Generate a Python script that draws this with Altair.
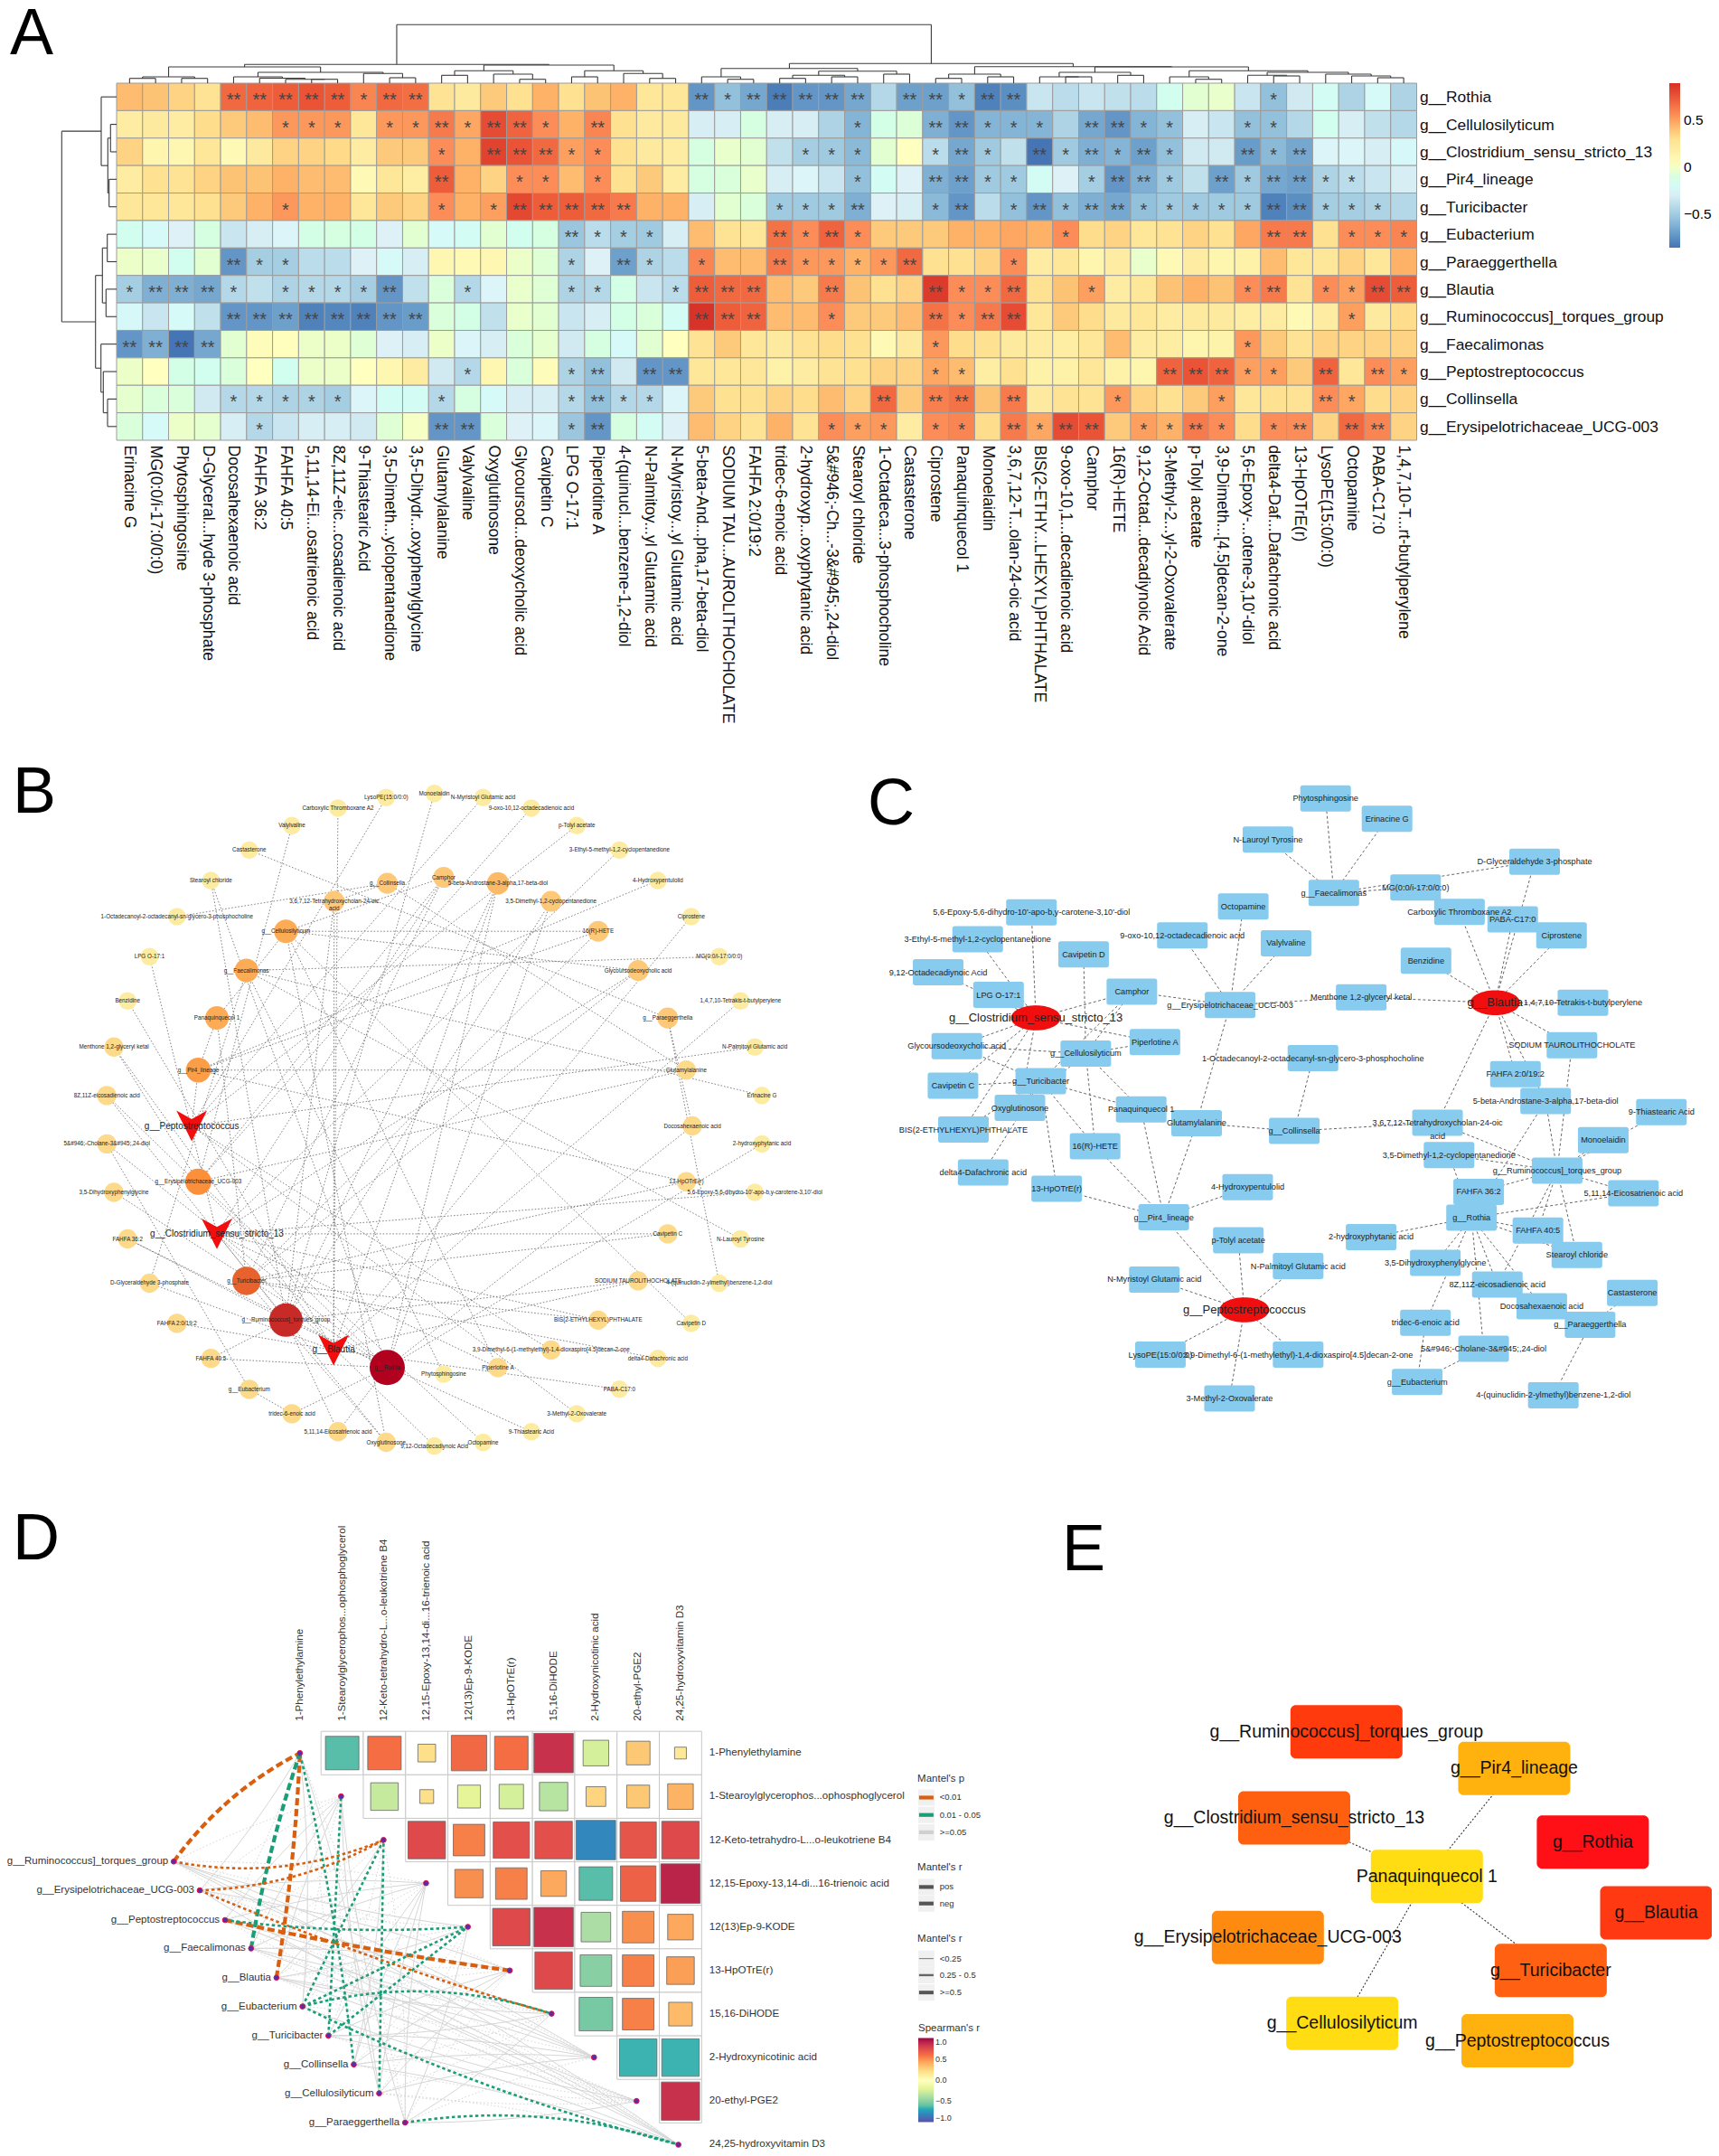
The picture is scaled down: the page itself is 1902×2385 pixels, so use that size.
import altair as alt
import pandas as pd

# ---------- page geometry ----------
PAGE_W, PAGE_H, M = 1902, 2385, 8
W, H = PAGE_W - 2 * M, PAGE_H - 2 * M
X_SCALE = alt.Scale(domain=[M, PAGE_W - M], range=[0, W], nice=False, zero=False)
Y_SCALE = alt.Scale(domain=[M, PAGE_H - M], range=[0, H], nice=False, zero=False)
X = alt.X("x:Q", scale=X_SCALE, axis=None)
Y = alt.Y("y:Q", scale=Y_SCALE, axis=None)

# ---------- panel A data ----------
hm_cols = ["Erinacine G", "MG(0:0/i-17:0/0:0)", "Phytosphingosine", "D-Glyceral...hyde 3-phosphate",
           "Docosahexaenoic acid", "FAHFA 36:2", "FAHFA 40:5", "5,11,14-Ei...osatrienoic acid",
           "8Z,11Z-eic...cosadienoic acid", "9-Thiastearic Acid", "3,5-Dimeth...yclopentanedione",
           "3,5-Dihydr...oxyphenylglycine", "Glutamylalanine", "Valylvaline", "Oxyglutinosone",
           "Glycoursod...deoxycholic acid", "Cavipetin C", "LPG O-17:1", "Piperlotine A",
           "4-(quinucl...benzene-1,2-diol", "N-Palmitoy...yl Glutamic acid", "N-Myristoy...yl Glutamic acid",
           "5-beta-And...pha,17-beta-diol", "SODIUM TAU...AUROLITHOCHOLATE", "FAHFA 2:0/19:2",
           "tridec-6-enoic acid", "2-hydroxyp...oxyphytanic acid", "5&#946;-Ch...-3&#945;,24-diol",
           "Stearoyl chloride", "1-Octadeca...3-phosphocholine", "Castasterone", "Ciprostene",
           "Panaquinquecol 1", "Monoelaidin", "3,6,7,12-T...olan-24-oic acid", "BIS(2-ETHY...LHEXYL)PHTHALATE",
           "9-oxo-10,1...decadienoic acid", "Camphor", "16(R)-HETE", "9,12-Octad...decadiynoic Acid",
           "3-Methyl-2...yl-2-Oxovalerate", "p-Tolyl acetate", "3,9-Dimeth...[4.5]decan-2-one",
           "5,6-Epoxy-...otene-3,10'-diol", "delta4-Daf...Dafachronic acid", "13-HpOTrE(r)",
           "LysoPE(15:0/0:0)", "Octopamine", "PABA-C17:0", "1,4,7,10-T...rt-butylperylene"]
hm_rows = ["g__Rothia", "g__Cellulosilyticum", "g__Clostridium_sensu_stricto_13", "g__Pir4_lineage",
           "g__Turicibacter", "g__Eubacterium", "g__Paraeggerthella", "g__Blautia",
           "g__Ruminococcus]_torques_group", "g__Faecalimonas", "g__Peptostreptococcus", "g__Collinsella",
           "g__Erysipelotrichaceae_UCG-003"]
hm_rothia = ".42 .4 .35 .28 .68** .7** .72** .75** .72** .58* .68** .66** .28 .22 .38 .3 .45 .3 .4 .45 .25 .25 -.72** -.55* -.65** -.82** -.72** -.72** -.65** -.42 -.68** -.68** -.55* -.8** -.75** -.35 -.4 -.35 -.38 -.4 -.15 -.05 -.03 -.35 -.55* -.32 -.18 -.45 -.2 -.45"
hm_cellulo = ".2 .22 .2 .32 .38 .42 .52* .52* .52* .25 .52* .52* .62** .48* .78** .7** .55* .45 .58** .3 .22 .22 -.3 -.3 -.1 -.3 -.3 -.45 -.6* -.12 -.07 -.62** -.72** -.6* -.6* -.6* -.45 -.65** -.72** -.6* -.55* -.3 -.35 -.55* -.55* -.42 -.15 -.3 -.38 -.42"
hm_clostr = ".35 .12 .1 .25 .08 .22 .35 .35 .33 .2 .38 .38 .55* .45 .82** .75** .68** .5* .55* .3 .22 .2 -.1 -.03 -.05 -.38 -.48* -.5* -.58* -.05 .02 -.4* -.65** -.5* -.38 -.85** -.5* -.62** -.6* -.68** -.55* -.32 -.32 -.7** -.58* -.65** -.25 -.25 -.3 -.22"
hm_pir4 = ".2 .3 .28 .35 .4 .4 .45 .42 .42 .08 .25 .18 .72** .45 .35 .55* .55* .42 .55* .3 .38 .2 -.1 -.08 -.03 -.3 -.25 -.35 -.55* -.18 -.28 -.62** -.68** -.5* -.5* -.18 -.28 -.48* -.72** -.62** -.5* -.38 -.68** -.5* -.65** -.68** -.45* -.4* -.35 -.3"
hm_turici = ".25 .25 .25 .3 .38 .45 .52* .45 .45 .25 .38 .35 .55* .45 .5* .8** .72** .72** .68** .62** .45 .45 -.3 -.05 -.08 -.5* -.5* -.5* -.62** -.28 -.3 -.58* -.72** -.4 -.55* -.72** -.55* -.62** -.65** -.55* -.5* -.5* -.5* -.5* -.8** -.75** -.48* -.48* -.45* -.42"
hm_eubac = "-.15 -.2 -.28 -.1 -.35 -.3 -.25 -.12 -.1 -.12 -.28 -.05 -.2 -.18 -.05 -.15 -.1 -.52** -.4* -.48* -.5* -.3 .42 .28 .25 .65** .55* .7** .55* .38 .38 .38 .45 .45 .48 .45 .55* .32 .35 .25 .28 .35 .3 .48 .62** .62** .3 .55* .55* .58*"
hm_parae = "-.02 -.03 -.15 -.05 -.72** -.48* -.48* -.4 -.4 -.28 -.2 -.3 .1 .07 .1 -.02 -.06 -.45* -.28 -.68** -.45* -.4 .58* .42 .42 .62** .52* .52* .45* .52* .68** .3 .3 .35 .55* .2 .25 .12 .2 -.03 .08 .2 .12 .15 .42 .25 .25 .35 .25 .45"
hm_blautia = "-.48* -.62** -.62** -.65** -.42* -.38 -.45* -.42* -.42* -.48* -.72** -.38 -.08 -.42* -.25 -.03 -.06 -.45* -.42* -.12 -.35 -.4* .72** .68** .68** .42 .38 .62** .4 .3 .35 .85** .55* .55* .68** .3 .4 .5* .2 .25 .4 .45 .4 .55* .62** .28 .55* .5* .78** .72**"
hm_rumino = "-.22 -.35 -.2 -.38 -.72** -.72** -.68** -.8** -.78** -.8** -.72** -.7** -.08 -.12 -.38 -.03 -.05 -.35 -.3 -.12 -.08 -.18 .88** .72** .7** .42 .42 .55* .38 .38 .42 .65** .55* .62** .78** .25 .38 .32 .22 .25 .2 .22 .22 .18 .2 .08 .2 .5* .22 .32"
hm_faecal = "-.72** -.62** -.85** -.65** -.05 .05 .03 -.02 -.02 -.06 -.28 -.3 -.02 -.25 -.3 -.08 -.04 -.32 -.1 -.2 -.05 .02 .28 .38 .25 .22 .28 .32 .3 .08 .22 .52* .32 .3 .22 .2 .18 .25 .42 .2 .18 .12 .14 .52* .38 .28 .35 .35 .35 .35"
hm_pepto = "-.02 .02 -.12 -.15 -.08 .02 -.15 -.02 -.02 .02 .1 .2 -.32 -.42* .1 -.08 .05 -.45* -.55** -.32 -.72** -.72** .25 .25 .25 .15 .2 .28 .3 .35 .35 .48* .42* .18 .3 .15 .15 .25 .15 .12 .7** .75** .7** .5* .5* .38 .7** .25 .55** .5*"
hm_collin = "-.04 -.08 -.08 -.32 -.42* -.42* -.45* -.45* -.48* -.25 -.18 -.18 -.42* -.1 -.2 -.3 -.3 -.42* -.55** -.42* -.42* -.25 .38 .3 .3 .35 .32 .42 .35 .68** .38 .6** .65** .4 .62** .22 .28 .28 .52* .35 .3 .38 .5* .25 .3 .28 .55** .48* .32 .35"
hm_erysip = "-.08 -.2 -.02 -.04 -.3 -.42* -.35 -.3 -.3 -.32 -.06 0 -.72** -.72** -.08 -.28 -.25 -.52* -.72** -.1 -.18 -.28 .42 .35 .28 .45 .28 .55* .5* .52* .2 .55* .58* .32 .62** .48* .78** .75** .38 .5* .45* .62** .55* .32 .55* .55** .35 .68** .58** .35"
hm_values = [hm_rothia, hm_cellulo, hm_clostr, hm_pir4, hm_turici, hm_eubac, hm_parae, hm_blautia,
             hm_rumino, hm_faecal, hm_pepto, hm_collin, hm_erysip]

# merge heights of the clustering trees: (height, left, right); leaves are 1-based
top_left = (20.7,
            (18, (7, (5.3, 1, 2), (5.3, 3, 4)),
             (12, (7, 5, (5.5, 6, (4.3, 7, (4.3, 8, 9)))), (10.7, 10, (6, 11, 12)))),
            (20, (13.7, (8.7, 13, 14), (10, 15, (4.3, 16, 17))),
             (13.7, (7, 18, 19), (10.7, 20, (5.3, 21, 22)))))
top_right = (21.7,
             (16.3, (7, 23, (4.3, 24, 25)),
              (13.3, (8.7, (5.3, 26, 27), (7, 28, 29)), (10, 30, 31))),
             (18.3, (10, (5.3, 32, 33), (7, 34, 35)),
              (18, (12, (7, 36, (7, 37, 38)), (8.7, 39, 40)),
               (13.7, (7, 41, (4.3, 42, 43)),
                (12, (8.7, 44, (8, 45, 46)), (10, 47, (8, 48, (6, 49, 50))))))))
top_tree = (64.7, top_left, top_right)
left_tree = (60.7, (17, 1, (9.7, (6.7, 2, 3), (8.3, 4, 5))),
             (23.3, (15.7, (10.3, 6, 7), (11.7, 8, 9)), (17.3, 10, (14.7, 11, (10, 12, 13)))))

# ---------- panels B and C share one network ----------
net_edges = {
    "g__Faecalimonas": ["Phytosphingosine", "Erinacine G", "N-Lauroyl Tyrosine", "MG(0:0/i-17:0/0:0)", "D-Glyceraldehyde 3-phosphate"],
    "g__Blautia": ["PABA-C17:0", "Carboxylic Thromboxane A2", "Ciprostene", "Benzidine", "Menthone 1,2-glyceryl ketal",
                   "1,4,7,10-Tetrakis-t-butylperylene", "SODIUM TAUROLITHOCHOLATE", "FAHFA 2:0/19:2",
                   "3,6,7,12-Tetrahydroxycholan-24-oic\nacid", "5-beta-Androstane-3-alpha,17-beta-diol", "D-Glyceraldehyde 3-phosphate"],
    "g__Erysipelotrichaceae_UCG-003": ["Octopamine", "9-oxo-10,12-octadecadienoic acid", "Valylvaline", "Camphor",
                                       "Menthone 1,2-glyceryl ketal", "Glutamylalanine"],
    "g__Clostridium_sensu_stricto_13": ["5,6-Epoxy-5,6-dihydro-10'-apo-b,y-carotene-3,10'-diol", "3-Ethyl-5-methyl-1,2-cyclopentanedione",
                                        "9,12-Octadecadiynoic Acid", "LPG O-17:1", "Camphor", "Glycoursodeoxycholic acid",
                                        "Cavipetin C", "BIS(2-ETHYLHEXYL)PHTHALATE", "Piperlotine A", "Oxyglutinosone"],
    "g__Turicibacter": ["Glycoursodeoxycholic acid", "Cavipetin C", "Oxyglutinosone", "Panaquinquecol 1", "16(R)-HETE",
                        "13-HpOTrE(r)", "BIS(2-ETHYLHEXYL)PHTHALATE", "delta4-Dafachronic acid", "Camphor"],
    "g__Cellulosilyticum": ["Camphor", "Piperlotine A", "Panaquinquecol 1", "16(R)-HETE", "Cavipetin D", "Oxyglutinosone", "Glycoursodeoxycholic acid"],
    "g__Pir4_lineage": ["Panaquinquecol 1", "Glutamylalanine", "16(R)-HETE", "13-HpOTrE(r)", "4-Hydroxypentulolid", "g__Peptostreptococcus"],
    "g__Collinsella": ["1-Octadecanoyl-2-octadecanyl-sn-glycero-3-phosphocholine", "Glutamylalanine", "3,6,7,12-Tetrahydroxycholan-24-oic\nacid"],
    "g__Peptostreptococcus": ["p-Tolyl acetate", "N-Palmitoyl Glutamic acid", "N-Myristoyl Glutamic acid", "LysoPE(15:0/0:0)",
                              "3,9-Dimethyl-6-(1-methylethyl)-1,4-dioxaspiro[4.5]decan-2-one", "3-Methyl-2-Oxovalerate"],
    "g__Ruminococcus]_torques_group": ["3,6,7,12-Tetrahydroxycholan-24-oic\nacid", "5-beta-Androstane-3-alpha,17-beta-diol",
                                       "3,5-Dimethyl-1,2-cyclopentanedione", "Monoelaidin", "9-Thiastearic Acid", "FAHFA 36:2",
                                       "5,11,14-Eicosatrienoic acid", "FAHFA 40:5", "8Z,11Z-eicosadienoic acid", "Stearoyl chloride",
                                       "SODIUM TAUROLITHOCHOLATE"],
    "g__Rothia": ["3,5-Dimethyl-1,2-cyclopentanedione", "FAHFA 36:2", "5,11,14-Eicosatrienoic acid", "FAHFA 40:5",
                  "2-hydroxyphytanic acid", "Stearoyl chloride", "3,5-Dihydroxyphenylglycine", "8Z,11Z-eicosadienoic acid",
                  "Docosahexaenoic acid", "tridec-6-enoic acid", "5-beta-Androstane-3-alpha,17-beta-diol", "5&#946;-Cholane-3&#945;,24-diol"],
    "g__Eubacterium": ["5&#946;-Cholane-3&#945;,24-diol", "tridec-6-enoic acid"],
    "g__Paraeggerthella": ["Castasterone", "Docosahexaenoic acid", "4-(quinuclidin-2-ylmethyl)benzene-1,2-diol"],
}
# panel C layout: name, layout x, layout y
c_nodes = [
    ("Phytosphingosine", 851, 124), ("Erinacine G", 963, 168), ("N-Lauroyl Tyrosine", 746, 213), ("g__Faecalimonas", 866, 329),
    ("D-Glyceraldehyde 3-phosphate", 1232, 261), ("MG(0:0/i-17:0/0:0)", 1015, 317), ("Carboxylic Thromboxane A2", 1095, 370),
    ("PABA-C17:0", 1192, 386), ("Ciprostene", 1281, 421), ("Octopamine", 701, 358), ("9-oxo-10,12-octadecadienoic acid", 590, 421),
    ("Valylvaline", 779, 438), ("Benzidine", 1034, 476), ("5,6-Epoxy-5,6-dihydro-10'-apo-b,y-carotene-3,10'-diol", 315, 371),
    ("3-Ethyl-5-methyl-1,2-cyclopentanedione", 217, 429), ("Cavipetin D", 410, 462), ("9,12-Octadecadiynoic Acid", 145, 501),
    ("LPG O-17:1", 255, 550), ("Camphor", 498, 543), ("g__Erysipelotrichaceae_UCG-003", 677, 572), ("Menthone 1,2-glyceryl ketal", 916, 555),
    ("1,4,7,10-Tetrakis-t-butylperylene", 1320, 567), ("Glycoursodeoxycholic acid", 179, 661), ("g__Cellulosilyticum", 414, 677),
    ("Piperlotine A", 540, 652), ("1-Octadecanoyl-2-octadecanyl-sn-glycero-3-phosphocholine", 828, 687), ("SODIUM TAUROLITHOCHOLATE", 1300, 659),
    ("FAHFA 2:0/19:2", 1197, 722), ("g__Turicibacter", 332, 737), ("Cavipetin C", 172, 747), ("5-beta-Androstane-3-alpha,17-beta-diol", 1252, 780),
    ("9-Thiastearic Acid", 1463, 804), ("Oxyglutinosone", 294, 795), ("Panaquinquecol 1", 515, 798), ("Glutamylalanine", 616, 828),
    ("g__Collinsella", 794, 845), ("3,6,7,12-Tetrahydroxycholan-24-oic\nacid", 1055, 827), ("Monoelaidin", 1357, 865),
    ("BIS(2-ETHYLHEXYL)PHTHALATE", 191, 842), ("16(R)-HETE", 431, 878), ("3,5-Dimethyl-1,2-cyclopentanedione", 1076, 897),
    ("g__Ruminococcus]_torques_group", 1273, 931), ("delta4-Dafachronic acid", 227, 935), ("13-HpOTrE(r)", 361, 970), ("FAHFA 36:2", 1130, 977),
    ("4-Hydroxypentulolid", 709, 967), ("5,11,14-Eicosatrienoic acid", 1412, 980), ("g__Pir4_lineage", 556, 1032), ("g__Rothia", 1117, 1033),
    ("FAHFA 40:5", 1238, 1061), ("2-hydroxyphytanic acid", 934, 1075), ("p-Tolyl acetate", 692, 1082), ("Stearoyl chloride", 1309, 1114),
    ("3,5-Dihydroxyphenylglycine", 1051, 1131), ("N-Palmitoyl Glutamic acid", 801, 1138), ("N-Myristoyl Glutamic acid", 539, 1167),
    ("8Z,11Z-eicosadienoic acid", 1164, 1178), ("Docosahexaenoic acid", 1245, 1225), ("Castasterone", 1410, 1196),
    ("g__Paraeggerthella", 1333, 1265), ("tridec-6-enoic acid", 1033, 1261), ("5&#946;-Cholane-3&#945;,24-diol", 1139, 1317),
    ("LysoPE(15:0/0:0)", 550, 1330), ("3,9-Dimethyl-6-(1-methylethyl)-1,4-dioxaspiro[4.5]decan-2-one", 801, 1330), ("g__Eubacterium", 1018, 1389),
    ("3-Methyl-2-Oxovalerate", 676, 1425), ("4-(quinuclidin-2-ylmethyl)benzene-1,2-diol", 1266, 1418),
]
c_hubs = [("g__Blautia", 1160, 567), ("g__Clostridium_sensu_stricto_13", 323, 600), ("g__Peptostreptococcus", 703, 1233)]

# panel B layout: name, layout x, layout y, node degree
b_nodes = [
    ("Monoelaidin", 793, 113, 1), ("N-Myristoyl Glutamic acid", 882, 122, 1), ("9-oxo-10,12-octadecadienoic acid", 970, 145, 1),
    ("p-Tolyl acetate", 1053, 183, 1), ("3-Ethyl-5-methyl-1,2-cyclopentanedione", 1131, 236, 1), ("4-Hydroxypentulolid", 1201, 302, 1),
    ("Ciprostene", 1262, 380, 1), ("MG(0:0/i-17:0/0:0)", 1313, 467, 1), ("1,4,7,10-Tetrakis-t-butylperylene", 1352, 563, 1),
    ("N-Palmitoyl Glutamic acid", 1378, 663, 1), ("Erinacine G", 1391, 768, 1), ("2-hydroxyphytanic acid", 1391, 873, 1),
    ("5,6-Epoxy-5,6-dihydro-10'-apo-b,y-carotene-3,10'-diol", 1378, 978, 1), ("N-Lauroyl Tyrosine", 1352, 1079, 1),
    ("4-(quinuclidin-2-ylmethyl)benzene-1,2-diol", 1313, 1175, 1), ("Cavipetin D", 1262, 1262, 1), ("delta4-Dafachronic acid", 1201, 1338, 1),
    ("PABA-C17:0", 1131, 1405, 1), ("3-Methyl-2-Oxovalerate", 1053, 1458, 1), ("9-Thiastearic Acid", 970, 1497, 1), ("Octopamine", 882, 1520, 1),
    ("9,12-Octadecadiynoic Acid", 793, 1528, 1), ("Oxyglutinosone", 705, 1520, 2), ("5,11,14-Eicosatrienoic acid", 617, 1497, 2),
    ("tridec-6-enoic acid", 533, 1458, 2), ("g__Eubacterium", 455, 1405, 2), ("FAHFA 40:5", 385, 1338, 2), ("FAHFA 2:0/19:2", 323, 1262, 2),
    ("D-Glyceraldehyde 3-phosphate", 273, 1175, 2), ("FAHFA 36:2", 233, 1079, 2), ("3,5-Dihydroxyphenylglycine", 208, 978, 2),
    ("5&#946;-Cholane-3&#945;,24-diol", 195, 873, 2), ("8Z,11Z-eicosadienoic acid", 195, 768, 2), ("Menthone 1,2-glyceryl ketal", 208, 663, 2),
    ("Benzidine", 233, 563, 1), ("LPG O-17:1", 273, 467, 1), ("1-Octadecanoyl-2-octadecanyl-sn-glycero-3-phosphocholine", 323, 380, 1),
    ("Stearoyl chloride", 385, 302, 1), ("Castasterone", 455, 236, 1), ("Valylvaline", 533, 183, 1), ("Carboxylic Thromboxane A2", 617, 145, 1),
    ("LysoPE(15:0/0:0)", 705, 122, 1),
    ("Camphor", 810, 295, 3), ("g__Collinsella", 707, 308, 3), ("5-beta-Androstane-3-alpha,17-beta-diol", 909, 308, 4),
    ("3,5-Dimethyl-1,2-cyclopentanedione", 1006, 347, 3), ("3,6,7,12-Tetrahydroxycholan-24-oic\nacid", 610, 347, 3), ("16(R)-HETE", 1092, 412, 3),
    ("g__Cellulosilyticum", 522, 412, 5), ("Glycoursodeoxycholic acid", 1165, 497, 3), ("g__Faecalimonas", 450, 497, 5),
    ("g__Paraeggerthella", 1219, 600, 3), ("Panaquinquecol 1", 396, 600, 5), ("Glutamylalanine", 1253, 713, 2), ("g__Pir4_lineage", 362, 713, 6),
    ("Docosahexaenoic acid", 1264, 834, 2), ("13-HpOTrE(r)", 1253, 955, 2), ("g__Erysipelotrichaceae_UCG-003", 362, 955, 7),
    ("Cavipetin C", 1219, 1068, 2), ("SODIUM TAUROLITHOCHOLATE", 1165, 1170, 2), ("g__Turicibacter", 450, 1170, 9),
    ("BIS(2-ETHYLHEXYL)PHTHALATE", 1092, 1255, 2), ("g__Ruminococcus]_torques_group", 522, 1255, 14),
    ("3,9-Dimethyl-6-(1-methylethyl)-1,4-dioxaspiro[4.5]decan-2-one", 1006, 1320, 2), ("Piperlotine A", 909, 1358, 2),
    ("g__Rothia", 707, 1358, 16), ("Phytosphingosine", 810, 1372, 1),
]
b_hubs = [("g__Peptostreptococcus", 350, 834), ("g__Clostridium_sensu_stricto_13", 396, 1068), ("g__Blautia", 609, 1320)]

# ---------- panel D data ----------
d_col_labels = ["1-Phenylethylamine", "1-Stearoylglycerophos...ophosphoglycerol", "12-Keto-tetrahydro-L...o-leukotriene B4",
                "12,15-Epoxy-13,14-di...16-trienoic acid", "12(13)Ep-9-KODE", "13-HpOTrE(r)", "15,16-DiHODE",
                "2-Hydroxynicotinic acid", "20-ethyl-PGE2", "24,25-hydroxyvitamin D3"]
d_row_labels = list(d_col_labels)
# upper triangle, one list per row: (Spearman r, tile edge share)
d_r0 = [(-.62, .85), (.6, .85), (.2, .45), (.62, .9), (.6, .85), (.85, 1.0), (-.25, .65), (.3, .6), (.15, .3)]
d_r1 = [(-.3, .7), (.2, .35), (-.2, .58), (-.25, .62), (-.35, .72), (.25, .5), (.3, .58), (.38, .65)]
d_r2 = [(.75, .95), (.55, .8), (.72, .92), (.72, .95), (-.8, 1.0), (.7, .92), (.75, .95)]
d_r3 = [(.5, .72), (.55, .8), (.42, .65), (-.62, .85), (.65, .9), (.9, 1.0)]
d_r4 = [(.75, .95), (.85, 1.0), (-.4, .75), (.5, .8), (.42, .65)]
d_r5 = [(.75, .95), (-.5, .8), (.55, .8), (.45, .7)]
d_r6 = [(-.55, .85), (.55, .8), (.35, .6)]
d_r7 = [(-.66, .95), (-.66, .95)]
d_r8 = [(.85, .97)]
d_tiles = [d_r0, d_r1, d_r2, d_r3, d_r4, d_r5, d_r6, d_r7, d_r8]

d_taxa = [("g__Ruminococcus]_torques_group", 274, 873), ("g__Erysipelotrichaceae_UCG-003", 315, 941), ("g__Peptostreptococcus", 355, 1011),
          ("g__Faecalimonas", 396, 1078), ("g__Blautia", 436, 1147), ("g__Eubacterium", 477, 1215), ("g__Turicibacter", 518, 1284),
          ("g__Collinsella", 558, 1352), ("g__Cellulosilyticum", 598, 1420), ("g__Paraeggerthella", 639, 1489)]
d_mpos = [(473, 617), (538, 719), (605, 822), (672, 924), (738, 1027), (804, 1130), (870, 1232), (937, 1335), (1004, 1438), (1070, 1541)]
# significant Mantel links: taxon index, metabolite index, class, bend
d_links = [(0, 0, "o2", .12), (4, 0, "o2", -.03), (3, 0, "g2", .04), (7, 0, "g1", -.03), (6, 1, "g1", 0), (0, 2, "o1", -.15), (1, 2, "o1", -.12),
           (1, 6, "o1", -.03), (2, 5, "o2", -.02), (2, 4, "g1", -.05), (5, 2, "g1", 0), (8, 2, "g1", 0), (5, 4, "g1", 0), (6, 4, "g1", 0),
           (5, 6, "g1", .15), (5, 9, "g1", -.05), (9, 9, "g1", .12)]
# remaining links per taxon, per metabolite: s solid, d dotted
d_rest = ["sdsdsdssds", "sdssdssdsd", "dsdsssdsds", "ssdsdsdsds", "dssdsdssds", "sdsdsdsdss", "dsdsdsssds", "sdssdsdsds", "ssdsdsdsdd", "dsdssdsdss"]

# ---------- panel E data ----------
e_nodes = [("g__Ruminococcus]_torques_group", 762, 567, "#FF3A0D"), ("g__Pir4_lineage", 1125, 653, "#FFB20E"),
           ("g__Clostridium_sensu_stricto_13", 649, 770, "#FF600F"), ("g__Rothia", 1295, 827, "#FF0F16"),
           ("Panaquinquecol 1", 936, 908, "#FFDD12"), ("g__Blautia", 1432, 994, "#FF3A12"),
           ("g__Erysipelotrichaceae_UCG-003", 592, 1052, "#FF8A10"), ("g__Turicibacter", 1204, 1130, "#FF6012"),
           ("g__Cellulosilyticum", 753, 1255, "#FFDD12"), ("g__Peptostreptococcus", 1132, 1296, "#FFB20E")]
e_edges = [("Panaquinquecol 1", "g__Pir4_lineage"), ("Panaquinquecol 1", "g__Clostridium_sensu_stricto_13"),
           ("Panaquinquecol 1", "g__Turicibacter"), ("Panaquinquecol 1", "g__Cellulosilyticum")]

panel_letters = [("A", 35, 60), ("B", 38, 899), ("C", 986, 912), ("D", 40, 1725), ("E", 1199, 1737)]

# ---------- panel transforms (layout units to figure units) ----------
bx = lambda z: z / 1.65
by = lambda z: 820 + z / 1.96
cx = lambda z: 950 + z / 1.647
cy = lambda z: 820 + z / 1.96
dx = lambda z: z / 1.4255
dy = lambda z: 1650 + z / 2.133
ex = lambda z: 1100 + z / 1.955
ey = lambda z: 1650 + z / 2.133

# ---------- A: heat map through its own band scales ----------
HM_L, HM_R, HM_T, HM_B = 129.0, 1567.5, 92.0, 487.0
recs = []
for rn, line in zip(hm_rows, hm_values):
    toks = line.split()
    assert len(toks) == 50, (rn, len(toks))
    for cn, t in zip(hm_cols, toks):
        v = t.rstrip("*")
        recs.append({"col": cn, "row": rn, "v": float(v), "s": t[len(v):]})
hm_df = pd.DataFrame(recs)
hx = alt.X("col:N", sort=hm_cols, scale=alt.Scale(type="band", domain=hm_cols, range=[HM_L - M, HM_R - M], paddingInner=0, paddingOuter=0),
           axis=alt.Axis(orient="bottom", offset=-(H - (HM_B - M)), labelAngle=90, labelAlign="left", labelBaseline="middle", labelFontSize=17.6,
                         labelPadding=5, labelLimit=0, ticks=False, domain=False, grid=False, title=None, labelOverlap=False, labelColor="#111"))
hy = alt.Y("row:N", sort=hm_rows, scale=alt.Scale(type="band", domain=hm_rows, range=[HM_T - M, HM_B - M], paddingInner=0, paddingOuter=0),
           axis=alt.Axis(orient="right", offset=-(W - (HM_R - M)), labelFontSize=17.4, labelPadding=3, labelLimit=0, ticks=False, domain=False,
                         grid=False, title=None, labelOverlap=False, labelColor="#111", labelOffset=1))
hm_color = alt.Color("v:Q", scale=alt.Scale(domain=[-.85, -.56, -.27, .02, .31, .55, .75, .89],
                                            range=["#4575B4", "#91BFDB", "#E0F3F8", "#FFFFBF", "#FEE090", "#FC8D59", "#EA5336", "#D73027"]),
                     legend=alt.Legend(orient="none", legendX=1847 - M, legendY=92 - M, direction="vertical", gradientLength=182, gradientThickness=12,
                                       title=None, values=[-.5, 0, .5], format=".1~f", labelFontSize=15.5, labelOffset=4, gradientStrokeWidth=0))
hm_layer = alt.layer(
    alt.Chart(hm_df).mark_rect(stroke="#9c9c9c", strokeWidth=1).encode(x=hx, y=hy, color=hm_color),
    alt.Chart(hm_df[hm_df.s != ""]).mark_text(fontSize=20, color="#444", baseline="middle", dy=4).encode(x=hx, y=hy, text="s:N"),
)

# ---------- D: correlation tiles through their own band scales ----------
tile_recs = []
for i, row in enumerate(d_tiles):
    for k, (r, e) in enumerate(row):
        j = i + 1 + k
        tile_recs.append({"c": d_col_labels[j], "r": d_row_labels[i], "rho": r, "e": e})
tile_df = pd.DataFrame(tile_recs)
DL, DR = dx(473 - 33.35), dx(473 - 33.35 + 667)
DT = dy(617 - 51.35)
DB = DT + 10 * 48.13
tx = alt.X("c:N", sort=d_col_labels, scale=alt.Scale(type="band", domain=d_col_labels, range=[DL - M, DR - M], paddingInner=0, paddingOuter=0),
           axis=alt.Axis(orient="top", offset=-(DT - M), labelAngle=270, labelAlign="left", labelBaseline="middle", labelFontSize=11.6, labelPadding=12,
                         labelLimit=0, ticks=False, domain=False, grid=False, title=None, labelOverlap=False, labelColor="#333"))
ty = alt.Y("r:N", sort=d_row_labels, scale=alt.Scale(type="band", domain=d_row_labels, range=[DT - M, DB - M], paddingInner=0, paddingOuter=0),
           axis=alt.Axis(orient="right", offset=-(W - (DR - M)), labelFontSize=11.6, labelPadding=8, labelLimit=0, ticks=False, domain=False, grid=False,
                         title=None, labelOverlap=False, labelColor="#333"))
t_color = alt.Color("rho:Q", scale=alt.Scale(domain=[-1, -.8, -.6, -.4, -.2, 0, .2, .4, .6, .8, 1],
                                             range=["#5E4FA2", "#3288BD", "#66C2A5", "#ABDDA4", "#E6F598", "#FFFFBF", "#FEE08B", "#FDAE61", "#F46D43", "#D53E4F", "#9E0142"]),
                    legend=alt.Legend(orient="none", legendX=1016 - M, legendY=2238 - M, direction="vertical", gradientLength=93, gradientThickness=17,
                                      title="Spearman's r", titleFontSize=11.5, titleFontWeight="normal", values=[-1, -.5, 0, .5, 1], format=".1f",
                                      labelFontSize=9, labelOffset=2, gradientStrokeWidth=0, titleColor="#333", labelColor="#333", titlePadding=5))
tile_layer = alt.layer(
    alt.Chart(tile_df).mark_rect(fill="white", stroke="#c8c8c8", strokeWidth=1).encode(x=tx, y=ty),
    alt.Chart(tile_df).mark_square(opacity=1, stroke="#666", strokeWidth=.8).encode(
        x=tx, y=ty, color=t_color,
        size=alt.Size("e:Q", scale=alt.Scale(type="pow", exponent=2, domain=[0, 1], range=[0, 1900]), legend=None)),
)

# ---------- everything placed on figure coordinates ----------
layers = []

# dendrograms
def walk(node, pos):
    if not isinstance(node, tuple):
        return pos(node), 0, [], []
    h, l, r = node
    cl, hl, bl, vl = walk(l, pos)
    cr, hr, br, vr = walk(r, pos)
    return (cl + cr) / 2, h, bl + br + [(cl, cr, h)], vl + vr + [(cl, hl, h), (cr, hr, h)]

step_x = (HM_R - HM_L) / 50
step_y = (HM_B - HM_T) / 13
_, _, bars, stems = walk(top_tree, lambda k: HM_L + step_x * (k - .5))
layers.append(alt.Chart(pd.DataFrame([{"x": a, "x2": b, "y": HM_T - h} for a, b, h in bars])).mark_rule(color="#3a3a3a", strokeWidth=1.1).encode(x=X, x2="x2:Q", y=Y))
layers.append(alt.Chart(pd.DataFrame([{"x": a, "y": HM_T - h0, "y2": HM_T - h1} for a, h0, h1 in stems])).mark_rule(color="#3a3a3a", strokeWidth=1.1).encode(x=X, y=Y, y2="y2:Q"))
_, _, bars, stems = walk(left_tree, lambda k: HM_T + step_y * (k - .5))
layers.append(alt.Chart(pd.DataFrame([{"y": a, "y2": b, "x": HM_L - h} for a, b, h in bars])).mark_rule(color="#3a3a3a", strokeWidth=1.1).encode(x=X, y=Y, y2="y2:Q"))
layers.append(alt.Chart(pd.DataFrame([{"y": a, "x": HM_L - h0, "x2": HM_L - h1} for a, h0, h1 in stems])).mark_rule(color="#3a3a3a", strokeWidth=1.1).encode(x=X, x2="x2:Q", y=Y))

def edge_frame(pos):
    out = []
    for hub, targets in net_edges.items():
        for t in targets:
            if hub in pos and t in pos:
                out.append({"x": pos[hub][0], "y": pos[hub][1], "x2": pos[t][0], "y2": pos[t][1]})
    return pd.DataFrame(out)

# B
b_pos = {n: (bx(a), by(b)) for n, a, b, _ in b_nodes}
b_pos.update({n: (bx(a), by(b)) for n, a, b in b_hubs})
layers.append(alt.Chart(edge_frame(b_pos)).mark_rule(color="#777", strokeWidth=.9, strokeDash=[1.6, 2]).encode(x=X, x2="x2:Q", y=Y, y2="y2:Q"))
b_df = pd.DataFrame([{"name": n, "x": bx(a), "y": by(b), "deg": d} for n, a, b, d in b_nodes])
layers.append(alt.Chart(b_df).mark_circle(opacity=1).encode(
    x=X, y=Y,
    color=alt.Color("deg:Q", legend=None, scale=alt.Scale(domain=[1, 2, 3, 5, 7, 9, 14, 16],
                    range=["#FCEBA0", "#FDD98A", "#FDC878", "#FDAB55", "#FB8F3A", "#E8622D", "#C82B27", "#B2001F"])),
    size=alt.Size("deg:Q", legend=None, scale=alt.Scale(domain=[1, 16], range=[380, 1520]))))
b_hub_df = pd.DataFrame([{"name": n, "x": bx(a), "y": by(b)} for n, a, b in b_hubs])
layers.append(alt.Chart(b_hub_df).mark_point(filled=True, opacity=1, color="#F00E0E", size=1150,
              shape="M-1,-1 L0,-0.45 L1,-1 L0,1 Z").encode(x=X, y=Y))
layers.append(alt.Chart(b_df).mark_text(fontSize=6.3, color="#222", lineBreak="\n").encode(x=X, y=Y, text="name:N"))
layers.append(alt.Chart(b_hub_df).mark_text(fontSize=10, color="#222").encode(x=X, y=Y, text="name:N"))

# C
c_pos = {n: (cx(a), cy(b)) for n, a, b in c_nodes}
c_pos.update({n: (cx(a), cy(b)) for n, a, b in c_hubs})
layers.append(alt.Chart(edge_frame(c_pos)).mark_rule(color="#666", strokeWidth=1, strokeDash=[3, 2.5]).encode(x=X, x2="x2:Q", y=Y, y2="y2:Q"))
c_df = pd.DataFrame([{"name": n, "x": cx(a), "y": cy(b)} for n, a, b in c_nodes])
c_hub_df = pd.DataFrame([{"name": n, "x": cx(a), "y": cy(b)} for n, a, b in c_hubs])
layers.append(alt.Chart(c_df).mark_rect(width=56, height=29, cornerRadius=2.5, color="#87CBEE").encode(x=X, y=Y))
layers.append(alt.Chart(c_hub_df).mark_point(filled=True, opacity=1, color="#F00E0E", size=3025,
              shape="M -1 0 A 1 0.5 0 1 0 1 0 A 1 0.5 0 1 0 -1 0 Z").encode(x=X, y=Y))
layers.append(alt.Chart(c_df).mark_text(fontSize=9.2, color="#222", lineBreak="\n", lineHeight=15).encode(x=X, y=Y, text="name:N"))
layers.append(alt.Chart(c_hub_df).mark_text(fontSize=13, color="#222").encode(x=X, y=Y, text="name:N"))

# D links
def curve(p, q, k, n=18):
    cxm = (p[0] + q[0]) / 2 + k * (q[1] - p[1])
    cym = (p[1] + q[1]) / 2 - k * (q[0] - p[0])
    pts = []
    for i in range(n + 1):
        t = i / n
        pts.append(((1 - t) ** 2 * p[0] + 2 * t * (1 - t) * cxm + t ** 2 * q[0],
                    (1 - t) ** 2 * p[1] + 2 * t * (1 - t) * cym + t ** 2 * q[1]))
    return pts

taxa_xy = [(dx(a), dy(b)) for _, a, b in d_taxa]
met_xy = [(dx(a), dy(b)) for a, b in d_mpos]
special = {(t, m) for t, m, _, _ in d_links}
def line_frame(rows):
    out = []
    for lid, (p, q, k) in enumerate(rows):
        for i, (a, b) in enumerate(curve(p, q, k)):
            out.append({"x": a, "y": b, "id": lid, "i": i})
    return pd.DataFrame(out)
rest_s, rest_d = [], []
for ti, pat in enumerate(d_rest):
    for mi, ch in enumerate(pat):
        if (ti, mi) not in special:
            (rest_s if ch == "s" else rest_d).append((taxa_xy[ti], met_xy[mi], .05 if mi % 2 else -.05))
layers.append(alt.Chart(line_frame(rest_d)).mark_line(color="#d0d0d0", strokeWidth=.9, strokeDash=[1.5, 2.5]).encode(x=X, y=Y, detail="id:N", order="i:Q"))
layers.append(alt.Chart(line_frame(rest_s)).mark_line(color="#d6d6d6", strokeWidth=1).encode(x=X, y=Y, detail="id:N", order="i:Q"))
styles = {"o2": ("#D95F0E", 4.2, [8, 4]), "g2": ("#1B9E77", 4.2, [8, 4]), "o1": ("#D95F0E", 2.6, [3.5, 3]), "g1": ("#1B9E77", 2.6, [3.5, 3])}
for key, (col, w, dash) in styles.items():
    rows = [(taxa_xy[t], met_xy[m], k) for t, m, c, k in d_links if c == key]
    layers.append(alt.Chart(line_frame(rows)).mark_line(color=col, strokeWidth=w, strokeDash=dash).encode(x=X, y=Y, detail="id:N", order="i:Q"))
dot_df = pd.DataFrame([{"x": a, "y": b} for a, b in taxa_xy + met_xy])
layers.append(alt.Chart(dot_df).mark_circle(size=32, opacity=1, color="#5A2CA8", stroke="#E0104C", strokeWidth=1).encode(x=X, y=Y))
tax_lab = pd.DataFrame([{"x": dx(a) - 6, "y": dy(b), "t": n} for n, a, b in d_taxa])
layers.append(alt.Chart(tax_lab).mark_text(fontSize=11.5, align="right", color="#333").encode(x=X, y=Y, text="t:N"))

# D key (manual ggplot-style guides)
d_key_titles = [("Mantel's p", 1447, 679), ("Mantel's r", 1447, 887), ("Mantel's r", 1447, 1056)]
d_key_rows = [("<0.01", 722, "#D95F0E", 4.2), ("0.01 - 0.05", 763, "#1B9E77", 4.2), (">=0.05", 804, "#d0d0d0", 4.2),
              ("pos", 933, "#555", 4.2), ("neg", 972, "#555", 4.2),
              ("<0.25", 1102, "#777", 1), ("0.25 - 0.5", 1141, "#666", 2.4), (">=0.5", 1182, "#555", 4)]
layers.append(alt.Chart(pd.DataFrame([{"t": t, "x": dx(a), "y": dy(b)} for t, a, b in d_key_titles])).mark_text(fontSize=11.5, align="left", color="#333").encode(x=X, y=Y, text="t:N"))
key_df = pd.DataFrame([{"t": t, "x": dx(1461), "xa": dx(1461) - 8, "xb": dx(1461) + 8, "xt": dx(1482), "y": dy(b), "c": c, "w": w} for t, b, c, w in d_key_rows])
layers.append(alt.Chart(key_df).mark_rect(width=18, height=18, color="#f0f0f0").encode(x=X, y=Y))
layers.append(alt.Chart(key_df).mark_rule().encode(x=alt.X("xa:Q", scale=X_SCALE, axis=None), x2="xb:Q", y=Y,
              color=alt.Color("c:N", scale=None), strokeWidth=alt.StrokeWidth("w:Q", scale=None)))
layers.append(alt.Chart(key_df).mark_text(fontSize=9.5, align="left", color="#333").encode(x=alt.X("xt:Q", scale=X_SCALE, axis=None), y=Y, text="t:N"))

# E
e_pos = {n: (ex(a), ey(b)) for n, a, b, _ in e_nodes}
e_edge_df = pd.DataFrame([{"x": e_pos[a][0], "y": e_pos[a][1], "x2": e_pos[b][0], "y2": e_pos[b][1]} for a, b in e_edges])
layers.append(alt.Chart(e_edge_df).mark_rule(color="#333", strokeWidth=1.1, strokeDash=[2, 2]).encode(x=X, x2="x2:Q", y=Y, y2="y2:Q"))
e_df = pd.DataFrame([{"name": n, "x": ex(a), "y": ey(b), "c": c} for n, a, b, c in e_nodes])
layers.append(alt.Chart(e_df).mark_rect(width=124, height=59, cornerRadius=6).encode(x=X, y=Y, color=alt.Color("c:N", scale=None)))
layers.append(alt.Chart(e_df).mark_text(fontSize=19.5, color="#111").encode(x=X, y=Y, text="name:N"))

# panel letters
layers.append(alt.Chart(pd.DataFrame(panel_letters, columns=["t", "x", "y"])).mark_text(fontSize=72, baseline="alphabetic", color="black").encode(x=X, y=Y, text="t:N"))

canvas = alt.layer(*layers)

chart = (alt.layer(hm_layer, tile_layer, canvas)
         .resolve_scale(x="independent", y="independent", color="independent", size="independent")
         .resolve_axis(x="independent", y="independent")
         .properties(width=W, height=H, padding=0, autosize=alt.AutoSizeParams(type="none"))
         .configure(font="Liberation Sans")
         .configure_view(stroke=None))

chart.save("out.html", embed_options={"renderer": "svg", "actions": False})
